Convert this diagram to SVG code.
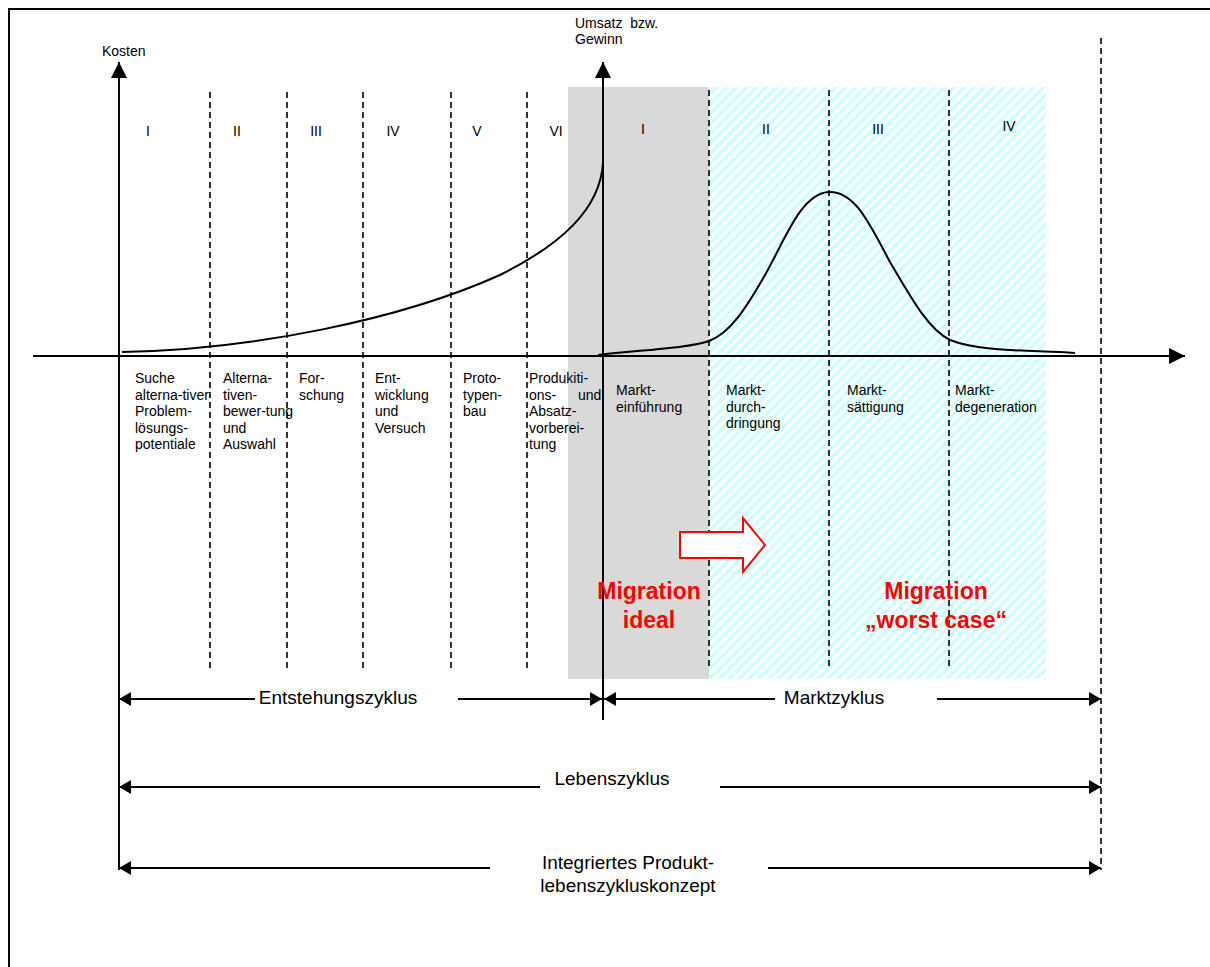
<svg xmlns="http://www.w3.org/2000/svg" width="1210" height="967" viewBox="0 0 1210 967">
  <style>
    text { font-family: "Liberation Sans", Arial, sans-serif; fill: #000; }
    .s { font-size: 14px; }
    .big { font-size: 19px; }
    .mig { font-size: 23px; font-weight: bold; fill: #ff0000; }
    .axis { stroke: #000; stroke-width: 2; fill: none; }
    .dash { stroke: #000; stroke-width: 1.6; stroke-dasharray: 6 4; fill: none; }
    .curve { stroke: #000; stroke-width: 2; fill: none; }
    .span { stroke: #000; stroke-width: 2; fill: none; }
  </style>
  <defs>
    <pattern id="hatch" width="7" height="7" patternUnits="userSpaceOnUse" patternTransform="rotate(45)">
      <rect width="7" height="7" fill="#ffffff"/>
      <rect width="3.5" height="7" fill="#ccffff"/>
    </pattern>
    <marker id="ah" viewBox="0 0 12 14" refX="12" refY="7" markerWidth="12" markerHeight="14" markerUnits="userSpaceOnUse" orient="auto-start-reverse">
      <path d="M0,0 L12,7 L0,14 Z" fill="#000"/>
    </marker>
    <marker id="axh" viewBox="0 0 16 16" refX="16" refY="8" markerWidth="16" markerHeight="16" markerUnits="userSpaceOnUse" orient="auto">
      <path d="M0,0 L16,8 L0,16 Z" fill="#000"/>
    </marker>
  </defs>

  <!-- page frame -->
  <path d="M9,967 V9 H1210" stroke="#000" stroke-width="2" fill="none"/>

  <!-- phase backgrounds -->
  <g id="bands">
    <rect x="568" y="87" width="141" height="592" fill="#d9d9d9"/>
    <rect x="709" y="87" width="337" height="592" fill="url(#hatch)"/>
  </g>

  <!-- phase separators -->
  <g id="separators">
    <line class="dash" x1="210" y1="92" x2="210" y2="668"/>
    <line class="dash" x1="287" y1="92" x2="287" y2="668"/>
    <line class="dash" x1="363" y1="92" x2="363" y2="668"/>
    <line class="dash" x1="451" y1="92" x2="451" y2="668"/>
    <line class="dash" x1="527" y1="92" x2="527" y2="668"/>
    <line class="dash" x1="709" y1="90" x2="709" y2="668"/>
    <line class="dash" x1="829" y1="90" x2="829" y2="668"/>
    <line class="dash" x1="949" y1="90" x2="949" y2="668"/>
    <line class="dash" x1="1101" y1="38" x2="1101" y2="870"/>
  </g>

  <!-- axes -->
  <g id="axes">
    <line class="axis" x1="119" y1="870" x2="119" y2="62" marker-end="url(#axh)"/>
    <line class="axis" x1="603" y1="720" x2="603" y2="62" marker-end="url(#axh)"/>
    <line class="axis" x1="33" y1="356" x2="1185" y2="356" marker-end="url(#axh)"/>
    <text class="s" x="102" y="56">Kosten</text>
    <text class="s" x="575" y="28" xml:space="preserve">Umsatz  bzw.</text>
    <text class="s" x="575" y="44">Gewinn</text>
  </g>

  <!-- curves -->
  <g id="curves">
    <path class="curve" d="M122,352 C250,350 400,320 500,275 C560,245 600,210 603,163"/>
    <path class="curve" d="M598,355 C640,350 690,348 709,341 C730,333 745,310 765,275 C785,240 800,195 828,192 C855,190 870,225 890,262 C915,305 930,330 950,340 C980,352 1030,350 1075,353"/>
  </g>

  <!-- phase numerals -->
  <g id="numerals" class="s">
    <text class="s" x="148" y="136" text-anchor="middle">I</text>
    <text class="s" x="237" y="136" text-anchor="middle">II</text>
    <text class="s" x="316" y="136" text-anchor="middle">III</text>
    <text class="s" x="393" y="136" text-anchor="middle">IV</text>
    <text class="s" x="477" y="136" text-anchor="middle">V</text>
    <text class="s" x="556" y="136" text-anchor="middle">VI</text>
    <text class="s" x="643" y="134" text-anchor="middle">I</text>
    <text class="s" x="766" y="134" text-anchor="middle">II</text>
    <text class="s" x="878" y="134" text-anchor="middle">III</text>
    <text class="s" x="1009" y="131" text-anchor="middle">IV</text>
  </g>

  <!-- phase labels -->
  <g id="phase-labels">
    <text class="s" x="135" y="383"><tspan x="135">Suche</tspan><tspan x="135" dy="16.5">alterna-tiver</tspan><tspan x="135" dy="16.5">Problem-</tspan><tspan x="135" dy="16.5">lösungs-</tspan><tspan x="135" dy="16.5">potentiale</tspan></text>
    <text class="s" x="223" y="383"><tspan x="223">Alterna-</tspan><tspan x="223" dy="16.5">tiven-</tspan><tspan x="223" dy="16.5">bewer-tung</tspan><tspan x="223" dy="16.5">und</tspan><tspan x="223" dy="16.5">Auswahl</tspan></text>
    <text class="s" x="299" y="383"><tspan x="299">For-</tspan><tspan x="299" dy="16.5">schung</tspan></text>
    <text class="s" x="375" y="383"><tspan x="375">Ent-</tspan><tspan x="375" dy="16.5">wicklung</tspan><tspan x="375" dy="16.5">und</tspan><tspan x="375" dy="16.5">Versuch</tspan></text>
    <text class="s" x="463" y="383"><tspan x="463">Proto-</tspan><tspan x="463" dy="16.5">typen-</tspan><tspan x="463" dy="16.5">bau</tspan></text>
    <text class="s" x="529" y="383"><tspan x="529">Produkiti-</tspan><tspan x="529" dy="16.5">ons-</tspan><tspan x="529" dy="16.5">Absatz-</tspan><tspan x="529" dy="16.5">vorberei-</tspan><tspan x="529" dy="16.5">tung</tspan></text>
    <text class="s" x="578" y="399.5">und</text>
    <text class="s" x="616" y="395"><tspan x="616">Markt-</tspan><tspan x="616" dy="16.5">einführung</tspan></text>
    <text class="s" x="726" y="395"><tspan x="726">Markt-</tspan><tspan x="726" dy="16.5">durch-</tspan><tspan x="726" dy="16.5">dringung</tspan></text>
    <text class="s" x="847" y="395"><tspan x="847">Markt-</tspan><tspan x="847" dy="16.5">sättigung</tspan></text>
    <text class="s" x="955" y="395"><tspan x="955">Markt-</tspan><tspan x="955" dy="16.5">degeneration</tspan></text>
  </g>

  <!-- migration notes -->
  <g id="migration">
    <path d="M680,532 H743 V518 L765,545 L743,572 V558 H680 Z" fill="#fff" stroke="#ff0000" stroke-width="2"/>
    <text class="mig" x="649" y="599" text-anchor="middle">Migration</text>
    <text class="mig" x="649" y="628" text-anchor="middle">ideal</text>
    <text class="mig" x="936" y="599" text-anchor="middle">Migration</text>
    <text class="mig" x="936" y="628" text-anchor="middle">„worst case“</text>
  </g>

  <!-- cycle spans -->
  <g id="connectors">
    <line class="span" x1="255" y1="699" x2="119" y2="699" marker-end="url(#ah)"/>
    <line class="span" x1="458" y1="699" x2="602" y2="699" marker-end="url(#ah)"/>
    <line class="span" x1="775" y1="699" x2="604" y2="699" marker-end="url(#ah)"/>
    <line class="span" x1="937" y1="699" x2="1101" y2="699" marker-end="url(#ah)"/>
    <line class="span" x1="540" y1="787" x2="119" y2="787" marker-end="url(#ah)"/>
    <line class="span" x1="720" y1="787" x2="1101" y2="787" marker-end="url(#ah)"/>
    <line class="span" x1="490" y1="868" x2="119" y2="868" marker-end="url(#ah)"/>
    <line class="span" x1="768" y1="868" x2="1101" y2="868" marker-end="url(#ah)"/>
  </g>
  <g id="cycle-labels">
    <text class="big" x="338" y="704" text-anchor="middle">Entstehungszyklus</text>
    <text class="big" x="834" y="704" text-anchor="middle">Marktzyklus</text>
    <text class="big" x="612" y="785" text-anchor="middle">Lebenszyklus</text>
    <text class="big" x="628" y="869" text-anchor="middle">Integriertes Produkt-</text>
    <text class="big" x="628" y="892" text-anchor="middle">lebenszykluskonzept</text>
  </g>
</svg>
